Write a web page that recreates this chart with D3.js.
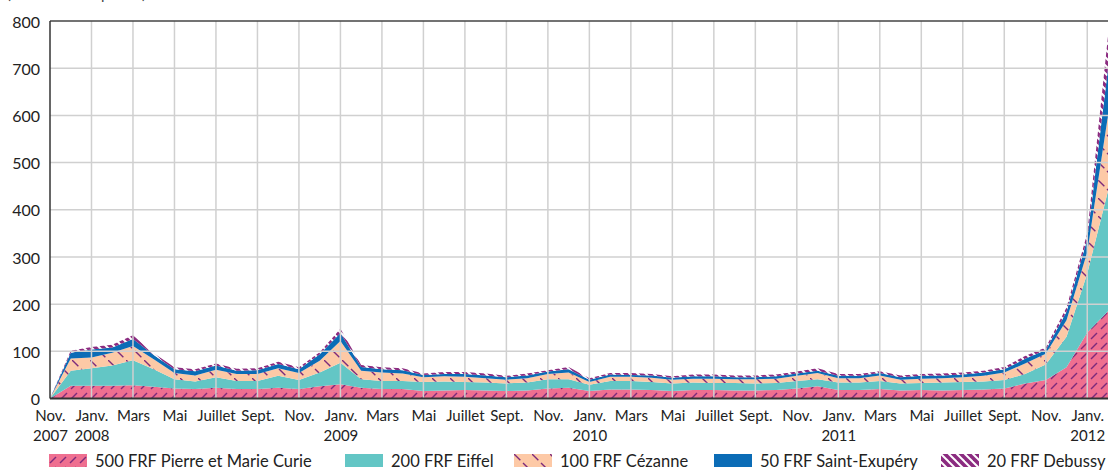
<!DOCTYPE html>
<html>
<head>
<meta charset="utf-8">
<script src="https://cdn.jsdelivr.net/npm/d3@7"></script>
<style>
  body { margin: 0; background: #fff; }
  svg { display: block; font-family: Lato, "Open Sans", sans-serif; }
</style>
</head>
<body>
<svg id="chart" width="1108" height="470"></svg>
<script>
// monthly points, Nov. 2007 -> Feb. 2012
var months = d3.timeMonth.range(new Date(2007, 10, 1), new Date(2012, 2, 1));

var keys = ["b500", "b200", "b100", "b50", "b20"];
var names = ["500 FRF Pierre et Marie Curie", "200 FRF Eiffel", "100 FRF Cézanne",
             "50 FRF Saint-Exupéry", "20 FRF Debussy"];

// values per denomination (layer thickness)
var b500 = [0, 27, 27, 27, 28, 25, 21, 20, 23, 20, 20, 23, 20, 26, 30, 23, 20, 20, 16, 17,
            18, 17, 16, 17, 21, 23, 16, 19, 19, 18, 16, 18, 18, 17, 17, 18, 21, 26, 18, 18,
            20, 17, 18, 17, 18, 19, 21, 32, 39, 66, 140, 185];
var b200 = [0, 32, 37, 43, 53, 37, 20, 16, 22, 17, 17, 25, 19, 29, 46, 18, 17, 17, 19, 19,
            17, 17, 16, 17, 20, 18, 13, 18, 18, 17, 16, 16, 15, 16, 15, 15, 16, 15, 16, 16,
            17, 15, 15, 17, 17, 17, 18, 20, 33, 65, 125, 255];
var b100 = [0, 26, 23, 27, 30, 21, 13, 13, 16, 15, 15, 16, 15, 25, 46, 18, 18, 16, 10, 11,
            11, 9, 8, 9, 11, 14, 6, 9, 9, 9, 8, 8, 9, 8, 9, 9, 11, 13, 9, 9,
            12, 8, 9, 9, 10, 12, 16, 22, 23, 35, 45, 160];
var b50  = [0, 12, 17, 11, 15, 9, 8, 9, 9, 7, 8, 9, 8, 14, 17, 8, 7, 7, 5, 5,
            6, 6, 5, 6, 5, 7, 5, 5, 4, 5, 4, 5, 5, 4, 4, 5, 5, 5, 5, 5,
            5, 5, 6, 6, 6, 7, 7, 10, 8, 18, 28, 100];
var b20  = [0, 4, 5, 6, 8, 4, 4, 4, 4, 4, 4, 5, 4, 4, 9, 4, 4, 4, 3, 4,
            4, 4, 3, 4, 3, 5, 3, 3, 4, 3, 3, 4, 4, 4, 4, 4, 4, 5, 4, 4,
            4, 4, 4, 4, 4, 4, 5, 6, 5, 9, 12, 68];

var yTicks = [0, 100, 200, 300, 400, 500, 600, 700, 800];
var monthLabels = ["Janv.", "", "Mars", "", "Mai", "", "Juillet", "", "Sept.", "", "Nov.", ""];
var legendX = [49, 345, 514, 714, 941];

var margin = { top: 21, right: 0, bottom: 71, left: 50 };
var W = 1108, H = 470;

var svg = d3.select("#chart");

// hatching patterns
var defs = svg.append("defs");

var p500 = defs.append("pattern").attr("id", "hatch500")
    .attr("patternUnits", "userSpaceOnUse").attr("width", 10).attr("height", 10);
p500.append("rect").attr("width", 10).attr("height", 10).attr("fill", "#ef6f90");
p500.append("line").attr("x1", 1).attr("y1", 9).attr("x2", 7).attr("y2", 3)
    .attr("stroke", "#7d2b7c").attr("stroke-width", 1.4);

// dashed "\" lines, continuous across tiles so thin bands still show marks
var p100 = defs.append("pattern").attr("id", "hatch100")
    .attr("patternUnits", "userSpaceOnUse").attr("width", 18).attr("height", 18);
p100.append("rect").attr("width", 18).attr("height", 18).attr("fill", "#fdc9a6");
p100.append("line").attr("x1", 0).attr("y1", 0).attr("x2", 18).attr("y2", 18)
    .attr("stroke", "#7d2b7c").attr("stroke-width", 1.4)
    .attr("stroke-dasharray", "9 3.73");

var p20 = defs.append("pattern").attr("id", "hatch20")
    .attr("patternUnits", "userSpaceOnUse").attr("width", 8).attr("height", 8);
p20.append("rect").attr("width", 8).attr("height", 8).attr("fill", "#8b2b80");
[[0, 0, 8, 8], [-1, 7, 1, 9], [7, -1, 9, 1]].forEach(function (l) {
  p20.append("line").attr("x1", l[0]).attr("y1", l[1]).attr("x2", l[2]).attr("y2", l[3])
      .attr("stroke", "#fff").attr("stroke-width", 2);
});

var fills = {
  b500: "url(#hatch500)",
  b200: "#63c6c5",
  b100: "url(#hatch100)",
  b50: "#0b6cb6",
  b20: "url(#hatch20)"
};

var x = d3.scalePoint()
    .domain(months)
    .range([margin.left, W - margin.right]);

var y = d3.scaleLinear()
    .domain([0, 800])
    .range([H - margin.bottom - 0.5, margin.top]);

var rows = months.map(function (m, i) {
  return { date: m, b500: b500[i], b200: b200[i], b100: b100[i], b50: b50[i], b20: b20[i] };
});

var series = d3.stack().keys(keys)(rows);

var area = d3.area()
    .x(function (d) { return x(d.data.date); })
    .y0(function (d) { return y(d[0]); })
    .y1(function (d) { return y(d[1]); });

svg.append("g").selectAll("path")
    .data(series)
    .enter().append("path")
    .attr("d", area)
    .attr("fill", function (d) { return fills[d.key]; });

// grid on top of the areas, like the original
var tickMonths = months.filter(function (d, i) { return i % 2 === 0; });

svg.append("g").attr("class", "grid")
    .selectAll("line.v")
    .data(tickMonths.slice(1))
    .enter().append("line")
    .attr("x1", function (d) { return x(d); })
    .attr("x2", function (d) { return x(d); })
    .attr("y1", y(800))
    .attr("y2", y(0))
    .attr("stroke", "#d0d0d0")
    .attr("stroke-width", 1.5);

svg.append("g").attr("class", "grid")
    .selectAll("line.h")
    .data(yTicks.slice(1, -1))
    .enter().append("line")
    .attr("x1", margin.left)
    .attr("x2", W)
    .attr("y1", function (d) { return y(d); })
    .attr("y2", function (d) { return y(d); })
    .attr("stroke", "#d0d0d0")
    .attr("stroke-width", 1.5);

// frame: top, left, bottom
svg.append("line").attr("x1", margin.left).attr("x2", W)
    .attr("y1", y(800)).attr("y2", y(800))
    .attr("stroke", "#444").attr("stroke-width", 1.3);
svg.append("line").attr("x1", margin.left).attr("x2", margin.left)
    .attr("y1", y(800)).attr("y2", y(0))
    .attr("stroke", "#333").attr("stroke-width", 1.5);
svg.append("line").attr("x1", margin.left).attr("x2", W)
    .attr("y1", y(0)).attr("y2", y(0))
    .attr("stroke", "#333").attr("stroke-width", 2);

// y axis labels
var yAxis = d3.axisLeft(y).tickValues(yTicks).tickSize(0).tickPadding(10);
var gy = svg.append("g")
    .attr("transform", "translate(" + margin.left + ",0)")
    .call(yAxis);
gy.select(".domain").remove();
gy.selectAll("text")
    .attr("font-family", "Lato, 'Open Sans', sans-serif")
    .attr("font-size", 16)
    .attr("fill", "#222")
    .attr("dy", "0.38em");

// x axis labels, year on a second line
var xAxis = d3.axisBottom(x).tickValues(tickMonths).tickSize(0).tickFormat(function () { return ""; });
var gx = svg.append("g")
    .attr("transform", "translate(0," + y(0) + ")")
    .call(xAxis);
gx.select(".domain").remove();
gx.selectAll(".tick text").each(function (d, i) {
  var self = d3.select(this).text("")
      .attr("font-family", "Lato, 'Open Sans', sans-serif")
      .attr("font-size", 15)
      .attr("fill", "#222")
      .attr("y", 0).attr("dy", 0);
  self.append("tspan").attr("x", 0).attr("y", 22.5).text(monthLabels[d.getMonth()]);
  if (d.getMonth() === 0 || i === 0) {
    self.append("tspan").attr("x", 0).attr("y", 42).text(d.getFullYear());
  }
});

// legend
var legend = svg.append("g").selectAll("g")
    .data(keys)
    .enter().append("g")
    .attr("transform", function (d, i) { return "translate(" + legendX[i] + ",454)"; });

legend.append("rect")
    .attr("width", 38)
    .attr("height", 13)
    .attr("fill", function (d) { return fills[d]; });

legend.append("text")
    .attr("x", 46)
    .attr("y", 12.5)
    .attr("font-size", 16.5)
    .attr("fill", "#222")
    .text(function (d, i) { return names[i]; });

// unit line above the plot, almost entirely cut off in the original
svg.append("text")
    .attr("x", 146)
    .attr("y", -1)
    .attr("text-anchor", "end")
    .attr("font-size", 15)
    .attr("fill", "#444")
    .text("(en milliers de pièces)");
</script>
</body>
</html>
